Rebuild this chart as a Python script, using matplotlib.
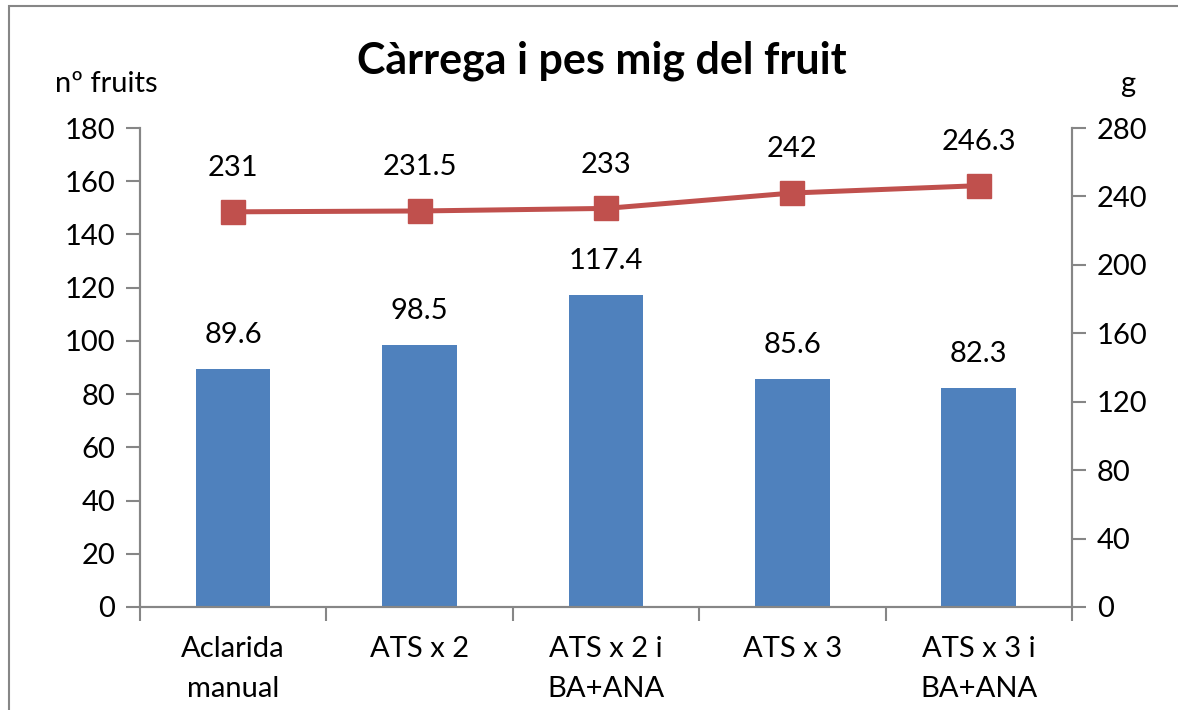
import numpy as np
import matplotlib.pyplot as plt
from matplotlib.patches import Rectangle

categories = ["Aclarida\nmanual", "ATS x 2", "ATS x 2 i\nBA+ANA", "ATS x 3", "ATS x 3 i\nBA+ANA"]
n_fruits = [89.6, 98.5, 117.4, 85.6, 82.3]
pes_mig = [231, 231.5, 233, 242, 246.3]
bar_labels = ["89.6", "98.5", "117.4", "85.6", "82.3"]
line_labels = ["231", "231.5", "233", "242", "246.3"]

plt.rcParams['font.family'] = ['Lato', 'DejaVu Sans']
grey = "#868686"
fs = 21

fig = plt.figure(figsize=(11.78, 7.1), dpi=100)
ax = fig.add_axes([0.1188, 0.1451, 0.7912, 0.6746])
ax2 = ax.twinx()

x = np.arange(len(categories))
ax.bar(x, n_fruits, width=0.4, color="#4F81BD", zorder=2)
for xi, v, t in zip(x, n_fruits, bar_labels):
    ax.annotate(t, (xi, v), xytext=(0, 24.5), textcoords="offset points",
                ha="center", va="center", fontsize=fs)

ax2.plot(x, pes_mig, color="#C0504D", lw=3.6, marker="s", markersize=17,
         markerfacecolor="#C0504D", markeredgecolor="#C0504D", zorder=3)
for xi, v, t in zip(x, pes_mig, line_labels):
    ax2.annotate(t, (xi, v), xytext=(0, 31.5), textcoords="offset points",
                 ha="center", va="center", fontsize=fs)

ax.set_xlim(-0.5, len(categories) - 0.5)
ax.set_ylim(0, 180)
ax.set_yticks(np.arange(0, 181, 20))
ax2.set_ylim(0, 280)
ax2.set_yticks(np.arange(0, 281, 40))

ax.set_xticks(x)
ax.set_xticklabels(categories, fontsize=fs, linespacing=1.65)
ax.set_xticks(np.arange(-0.5, len(categories), 1), minor=True)
ax.tick_params(axis="x", which="major", length=0, pad=21)
ax.tick_params(axis="x", which="minor", length=10, width=1.5, color=grey)
ax.tick_params(axis="y", labelsize=fs, length=10, width=1.5, color=grey, pad=8)
ax2.tick_params(axis="y", labelsize=fs, length=10, width=1.5, color=grey, pad=8)

for a in (ax, ax2):
    a.spines["top"].set_visible(False)
    for s in ("left", "right", "bottom"):
        a.spines[s].set_color(grey)
        a.spines[s].set_linewidth(1.5)

fig.text(0.511, 0.915, "Càrrega i pes mig del fruit", ha="center", va="center",
         fontsize=31, fontweight="bold")
fig.text(0.0465, 0.882, "nº fruits", ha="left", va="center", fontsize=fs)
fig.text(0.957, 0.882, "g", ha="center", va="center", fontsize=fs)

fig.patches.append(Rectangle((0.008, -0.05), 1.2, 0.0415 + 1.0, transform=fig.transFigure,
                             fill=False, edgecolor=grey, lw=1.5, clip_on=False))

fig.savefig("out.png", dpi=100)
